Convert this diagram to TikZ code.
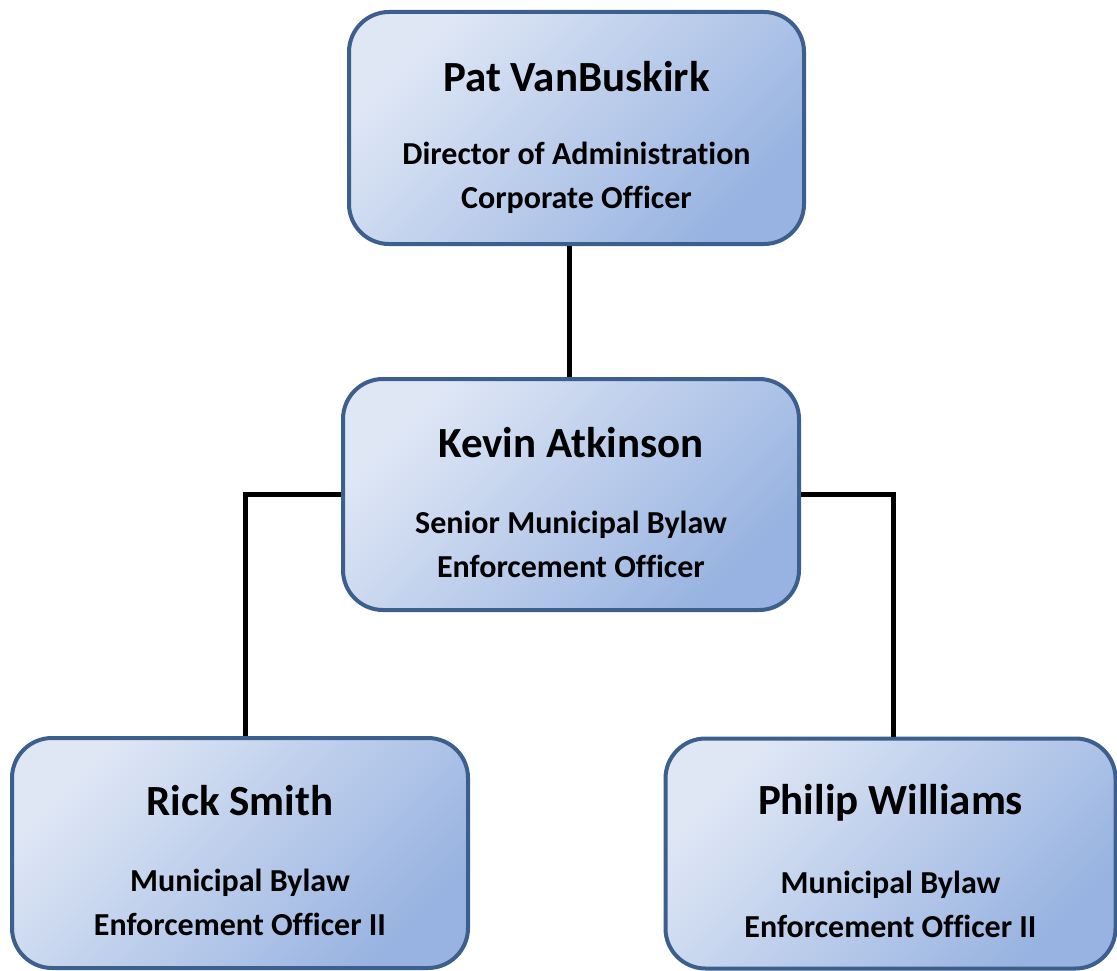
\documentclass[tikz,border=0pt]{standalone}
\usepackage{fontspec}
\setmainfont{Carlito}[Ligatures=NoCommon]
\begin{document}
\begin{tikzpicture}[x=1pt,y=-1pt,
  orgbox/.style={draw=boxedge, line width=4pt, rounded corners=40pt,
    shading=axis, top color=boxlight, bottom color=boxdark, shading angle=45,
    inner sep=0pt},
  nametext/.style={font=\fontsize{43}{50}\selectfont\bfseries, inner sep=0pt, anchor=center},
  roletext/.style={font=\fontsize{32}{44}\selectfont\bfseries, inner sep=0pt, align=center, anchor=center},
  link/.style={line width=5pt, black}]
\definecolor{boxedge}{RGB}{60,95,142}
\definecolor{boxlight}{RGB}{223,231,245}
\definecolor{boxdark}{RGB}{152,179,225}
\useasboundingbox (0,0) rectangle (1117,971);

\node[orgbox, minimum width=455pt, minimum height=232pt] (top) at (576.5,128) {};
\node[orgbox, minimum width=456pt, minimum height=231pt] (mid) at (571,494.5) {};
\node[orgbox, minimum width=456pt, minimum height=230pt] (bl) at (240,853) {};
\node[orgbox, minimum width=450pt, minimum height=230pt] (br) at (890.5,853.5) {};

\draw[link] ([xshift=-7.5pt]top.south) -- ([xshift=-7.5pt]top.south |- mid.north);
\draw[link] (mid.west) -| ([xshift=5.5pt]bl.north);
\draw[link] (mid.east) -| ([xshift=2.5pt]br.north);

\node[nametext] (topname) at ([yshift=51pt]top.center) {Pat VanBuskirk};
\node[roletext] (toprole) at ([yshift=-49.5pt]top.center) {Director of Administration\\Corporate Officer};
\node[nametext] (midname) at ([yshift=51.5pt]mid.center) {Kevin Atkinson};
\node[roletext] (midrole) at ([yshift=-49.5pt]mid.center) {Senior Municipal Bylaw\\Enforcement Officer};
\node[nametext] (blname) at ([yshift=52pt]bl.center) {Rick Smith};
\node[roletext] (blrole) at ([yshift=-49.5pt]bl.center) {Municipal Bylaw\\Enforcement Officer II};
\node[nametext] (brname) at ([yshift=50.5pt]br.center) {Philip Williams};
\node[roletext] (brrole) at ([yshift=-51pt]br.center) {Municipal Bylaw\\Enforcement Officer II};
\end{tikzpicture}
\end{document}
